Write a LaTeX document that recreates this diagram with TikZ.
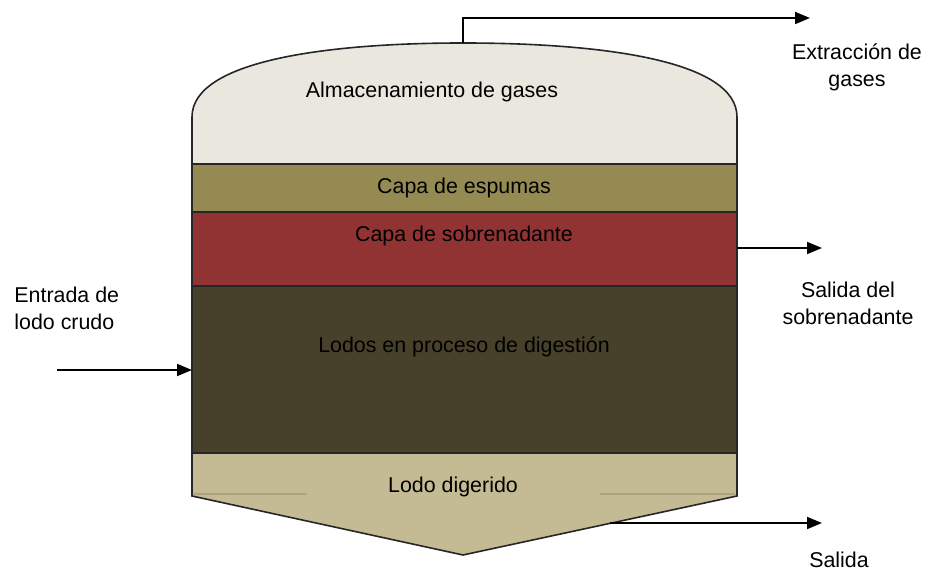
\documentclass[tikz,border=0pt]{standalone}
\usepackage{fontspec}
\setmainfont{Liberation Sans}
\usepackage{xcolor}
\usetikzlibrary{arrows.meta,positioning,calc}
\definecolor{gasfill}{HTML}{EAE8DE}
\definecolor{foamfill}{HTML}{948A52}
\definecolor{superfill}{HTML}{913333}
\definecolor{sludgefill}{HTML}{47402A}
\definecolor{digestfill}{HTML}{C4BA94}
\definecolor{faintline}{HTML}{ACA383}

\begin{document}
\begin{tikzpicture}[x=0.5pt, y=-0.5pt,
    layer/.style={draw=black!85, line width=0.8pt},
    flow/.style={-{Triangle[length=7.5pt, width=6pt]}, line width=0.9pt},
    lbl/.style={font=\fontsize{10.7}{13.5}\selectfont, align=center, inner sep=0pt}]
    \useasboundingbox (0,0) rectangle (925,571);

    % Gas storage (dome)
    \filldraw[layer, fill=gasfill] (192,164) -- (192,117)
        .. controls (192,60) and (330,43) .. (463,43)
        .. controls (600,43) and (737,60) .. (737,117) -- (737,164) -- cycle;

    % Layers
    \filldraw[layer, fill=foamfill] (192,164) rectangle (737,212);
    \filldraw[layer, fill=superfill] (192,212) rectangle (737,286);
    \filldraw[layer, fill=sludgefill] (192,286) rectangle (737,453);

    % Digested sludge with cone
    \filldraw[layer, fill=digestfill] (192,453) -- (737,453) -- (737,496)
        -- (463,555) -- (192,496) -- cycle;
    \draw[faintline, line width=0.6pt] (194,494) -- (307,494);
    \draw[faintline, line width=0.6pt] (600,494) -- (735,494);

    % Layer labels
    \node[lbl] (gases) at (432,92) {Almacenamiento de gases};
    \node[lbl] (espumas) at (464,188) {Capa de espumas};
    \node[lbl] (sobrenadante) at (464,236) {Capa de sobrenadante};
    \node[lbl] (lodos) at (464,347) {Lodos en proceso de digestión};
    \node[lbl] (digerido) at (453,487) {Lodo digerido};

    % Connection points
    \coordinate (domeTop) at (463,43);
    \coordinate (gasEnd) at (810,18);
    \coordinate (superOut) at (737,248);
    \coordinate (superEnd) at (822,248);
    \coordinate (coneOut) at (610,523);
    \coordinate (coneEnd) at (822,523);
    \coordinate (inStart) at (57,370);
    \coordinate (inEnd) at (192,370);

    % Outside labels
    \node[lbl] (extraccion) at (857,67) {Extracción de\\gases};
    \node[lbl] (salidaSup) at (848,303) {Salida del\\sobrenadante};
    \node[lbl] (salida) at (839,560) {Salida};
    \node[lbl, align=left, anchor=west] (entrada) at (14,308) {Entrada de\\lodo crudo};

    % Arrows
    \draw[flow] (domeTop) |- (gasEnd);
    \draw[flow] (superOut) -- (superEnd);
    \draw[flow] (coneOut) -- (coneEnd);
    \draw[flow] (inStart) -- (inEnd);
\end{tikzpicture}
\end{document}
